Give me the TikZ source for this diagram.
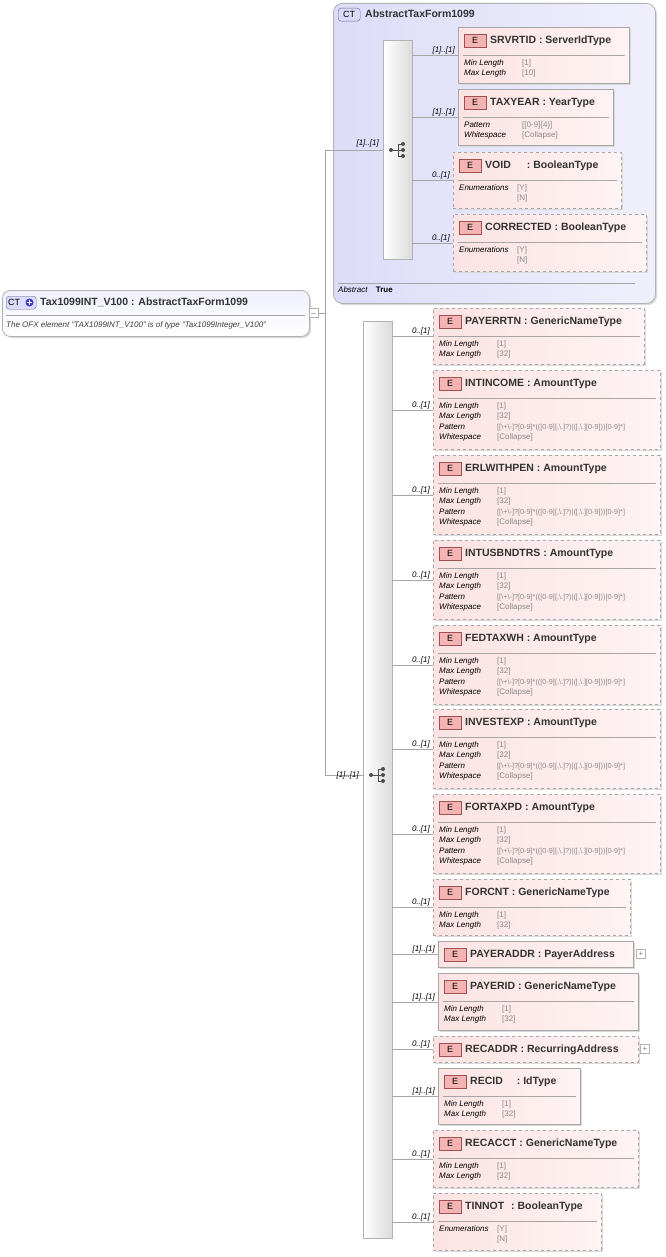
\documentclass[tikz,border=0pt]{standalone}
\usepackage{fontspec}
\setmainfont{Liberation Sans}
\usetikzlibrary{calc}
\definecolor{pinkf}{HTML}{FBE3E3}
\definecolor{pinkd}{HTML}{FFF3F3}
\definecolor{badgef}{HTML}{F4B4B4}
\definecolor{badged}{HTML}{A05050}
\definecolor{lav}{HTML}{DCDCF8}
\definecolor{lavd}{HTML}{F0F0FC}
\definecolor{valgray}{HTML}{8A8A8A}
\tikzset{
  ebox/.style={draw=gray!70, line width=0.8pt, left color=pinkf, right color=pinkd, inner sep=0pt},
  shadowbox/.style={fill=gray!30, draw=none},
  ebadge/.style={draw=badged, fill=badgef, minimum width=22pt, minimum height=13pt, inner sep=0pt, font=\fontsize{9}{10}\selectfont},
  etitle/.style={anchor=west, inner sep=0pt, font=\fontsize{10.5}{12}\selectfont\bfseries, text=black!80},
  cnt/.style={anchor=south east, inner sep=1pt, font=\fontsize{8}{9}\selectfont\itshape},
  conn/.style={draw=gray!70, line width=0.7pt},
  seqbar/.style={draw=gray!60, left color=white, right color=gray!28, inner sep=0pt},
}
\newcommand{\rw}[2]{\textit{#1} & \textcolor{valgray}{#2}}
\newcommand{\patv}{\fontsize{7.3}{8}\selectfont[[\textbackslash+\textbackslash-]?[0-9]*(([0-9][,\textbackslash.]?)|([,\textbackslash.][0-9]))[0-9]*]}
\newcommand{\elem}[8]{%
  \fill[shadowbox] (#3+2,#4+2) rectangle (#5+2,#6+2);
  \node[ebox,#2,minimum width={(#5-#3)*1pt},minimum height={(#6-#4)*1pt},anchor=north west] (#1) at (#3,#4) {};
  \node[ebadge,anchor=north west] (#1b) at ([xshift=6pt,yshift=-7pt]#1.north west) {E};
  \node[etitle] (#1t) at ([xshift=32pt,yshift=-14pt]#1.north west) {#7};
  \if\relax\detokenize{#8}\relax\else
  \draw[gray!70] ([xshift=5pt,yshift=-28pt]#1.north west) -- ([xshift=-5pt,yshift=-28pt]#1.north east);
  \node[anchor=north west,inner sep=0pt,font=\fontsize{8}{10.4}\selectfont] (#1r) at ([xshift=6pt,yshift=-31pt]#1.north west)
    {\begin{tabular}{@{}p{52pt}@{\hspace{6pt}}l@{}}#8\end{tabular}};
  \fi
}
\newcommand{\seqicon}[1]{%
  \fill[black!70] ($(#1)+(-7,0)$) circle (2);
  \draw[black!70,line width=0.9pt] ($(#1)+(-7,0)$) -- ($(#1)+(0,0)$) ($(#1)+(0,-6)$) -- ($(#1)+(0,6)$)
    ($(#1)+(0,-6)$) -- ($(#1)+(5,-6)$) ($(#1)+(0,6)$) -- ($(#1)+(5,6)$) ($(#1)+(0,0)$) -- ($(#1)+(5,0)$);
  \fill[black!70] ($(#1)+(5,-6)$) circle (2) ($(#1)+(5,0)$) circle (2) ($(#1)+(5,6)$) circle (2);
}
\newcommand{\link}[3]{%
  \draw[conn] (#1.east |- #2.west) -- (#2.west);
  \node[cnt] at ([xshift=-2pt]#2.west) {#3};
}
\begin{document}
\begin{tikzpicture}[x=1pt,y=-1pt]
\useasboundingbox (0,0) rectangle (665,1257);
% abstract CT box
\fill[gray!30, rounded corners=9pt] (335,5) rectangle (657,305);
\node[draw=gray!60, line width=0.8pt, rounded corners=9pt, left color=lav, right color=lavd, minimum width=322pt, minimum height=300pt, anchor=north west, inner sep=0pt] (abs) at (333,3) {};
\node[draw=gray!80!blue, fill=lav, rounded corners=3pt, minimum width=22pt, minimum height=13pt, inner sep=0pt, anchor=north west, font=\fontsize{9}{10}\selectfont] (absb) at (338,8) {CT};
\node[etitle] (abst) at (365,14) {AbstractTaxForm1099};
\draw[gray!70] (338,283) -- (635,283);
\node[anchor=west, inner sep=0pt, font=\fontsize{8}{9}\selectfont] (absf) at (338,290) {\textit{Abstract}\hspace{8pt}\textbf{True}};
% root
\fill[gray!30, rounded corners=8pt] (4,292) rectangle (311,338);
\node[draw=gray!60, line width=0.8pt, rounded corners=8pt, top color=lavd, bottom color=white, minimum width=307pt, minimum height=46pt, anchor=north west, inner sep=0pt] (root) at (2,290) {};
\node[draw=gray!80!blue, fill=lav, rounded corners=3pt, minimum width=30pt, minimum height=13pt, inner sep=0pt, anchor=north west] (rootb) at (6,296) {};
\node[anchor=west, inner sep=0pt, font=\fontsize{9}{10}\selectfont] (rootbt) at (8,302.5) {CT};
\fill[blue!55!gray] (29.5,302.5) circle (4);
\draw[white, line width=1.2pt] (27,302.5) -- (32,302.5) (29.5,300) -- (29.5,305);
\node[etitle] (roott) at (40,302) {Tax1099INT\_V100 : AbstractTaxForm1099};
\draw[gray!70] (6,315) -- (305,315);
\node[anchor=west, inner sep=0pt, font=\fontsize{8}{9}\selectfont\itshape, text=black!75] (rootd) at (6,325) {The OFX element "TAX1099INT\_V100" is of type "Tax1099Integer\_V100"};
\node[draw=gray!60, fill=white, minimum size=9pt, inner sep=0pt, anchor=west] (rootm) at (309,313) {};
\draw[gray!60] (311,313) -- (316,313);
\coordinate (j) at (325,313);
% seq bars
\node[seqbar, minimum width=29pt, minimum height=219pt, anchor=north west] (seq1) at (383,40) {};
\node[seqbar, minimum width=29pt, minimum height=917pt, anchor=north west] (seq2) at (363,321) {};
\seqicon{398,150}
\seqicon{378,775}
\draw[conn] (rootm.east) -- (j);
\draw[conn] (325,150) -- (325,775);
\draw[conn] (325,150) -- (seq1.west |- 0,150);
\draw[conn] (325,775) -- (seq2.west |- 0,775);
\node[cnt] at (380,148) {[1]..[1]};
\node[cnt] at (360,780) {[1]..[1]};
% top elements
\elem{srv}{solid}{458}{27}{629}{83}{SRVRTID : ServerIdType}{\rw{Min Length}{[1]}\\ \rw{Max Length}{[10]}}
\elem{tax}{solid}{458}{89}{613}{145}{TAXYEAR : YearType}{\rw{Pattern}{[[0-9]\{4\}]}\\ \rw{Whitespace}{[Collapse]}}
\elem{void}{dashed}{453}{152}{621}{208}{VOID\hspace{16pt}: BooleanType}{\rw{Enumerations}{[Y]}\\ & \textcolor{valgray}{[N]}}
\elem{corr}{dashed}{453}{214}{646}{271}{CORRECTED : BooleanType}{\rw{Enumerations}{[Y]}\\ & \textcolor{valgray}{[N]}}
\link{seq1}{srv}{[1]..[1]}
\link{seq1}{tax}{[1]..[1]}
\link{seq1}{void}{0..[1]}
\link{seq1}{corr}{0..[1]}
% bottom elements
\def\amt{\rw{Min Length}{[1]}\\ \rw{Max Length}{[32]}\\ \rw{Pattern}{\patv}\\ \rw{Whitespace}{[Collapse]}}
\def\gen{\rw{Min Length}{[1]}\\ \rw{Max Length}{[32]}}
\elem{e1}{dashed}{433}{308}{644}{364}{PAYERRTN : GenericNameType}{\gen}
\elem{e2}{dashed}{433}{370}{660}{449}{INTINCOME : AmountType}{\amt}
\elem{e3}{dashed}{433}{455}{660}{534}{ERLWITHPEN : AmountType}{\amt}
\elem{e4}{dashed}{433}{540}{660}{619}{INTUSBNDTRS : AmountType}{\amt}
\elem{e5}{dashed}{433}{625}{660}{704}{FEDTAXWH : AmountType}{\amt}
\elem{e6}{dashed}{433}{709}{660}{788}{INVESTEXP : AmountType}{\amt}
\elem{e7}{dashed}{433}{794}{660}{873}{FORTAXPD : AmountType}{\amt}
\elem{e8}{dashed}{433}{879}{630}{935}{FORCNT : GenericNameType}{\gen}
\elem{e9}{solid}{438}{941}{633}{967}{PAYERADDR : PayerAddress}{}
\elem{e10}{solid}{438}{973}{638}{1030}{PAYERID : GenericNameType}{\gen}
\elem{e11}{dashed}{433}{1036}{638}{1062}{RECADDR : RecurringAddress}{}
\elem{e12}{solid}{438}{1068}{580}{1124}{RECID\hspace{14pt}: IdType}{\gen}
\elem{e13}{dashed}{433}{1130}{638}{1187}{RECACCT : GenericNameType}{\gen}
\elem{e14}{dashed}{433}{1193}{601}{1250}{TINNOT\hspace{4pt} : BooleanType}{\rw{Enumerations}{[Y]}\\ & \textcolor{valgray}{[N]}}
\foreach \e/\l in {e1/0..[1],e2/0..[1],e3/0..[1],e4/0..[1],e5/0..[1],e6/0..[1],e7/0..[1],e8/0..[1],e9/[1]..[1],e10/[1]..[1],e11/0..[1],e12/[1]..[1],e13/0..[1],e14/0..[1]}{\link{seq2}{\e}{\l}}
\node[draw=gray!60, fill=white, minimum size=9pt, inner sep=0pt, font=\fontsize{8}{8}\selectfont, text=gray] (p9) at (641,954) {+};
\node[draw=gray!60, fill=white, minimum size=9pt, inner sep=0pt, font=\fontsize{8}{8}\selectfont, text=gray] (p11) at (645,1049) {+};
\end{tikzpicture}
\end{document}
